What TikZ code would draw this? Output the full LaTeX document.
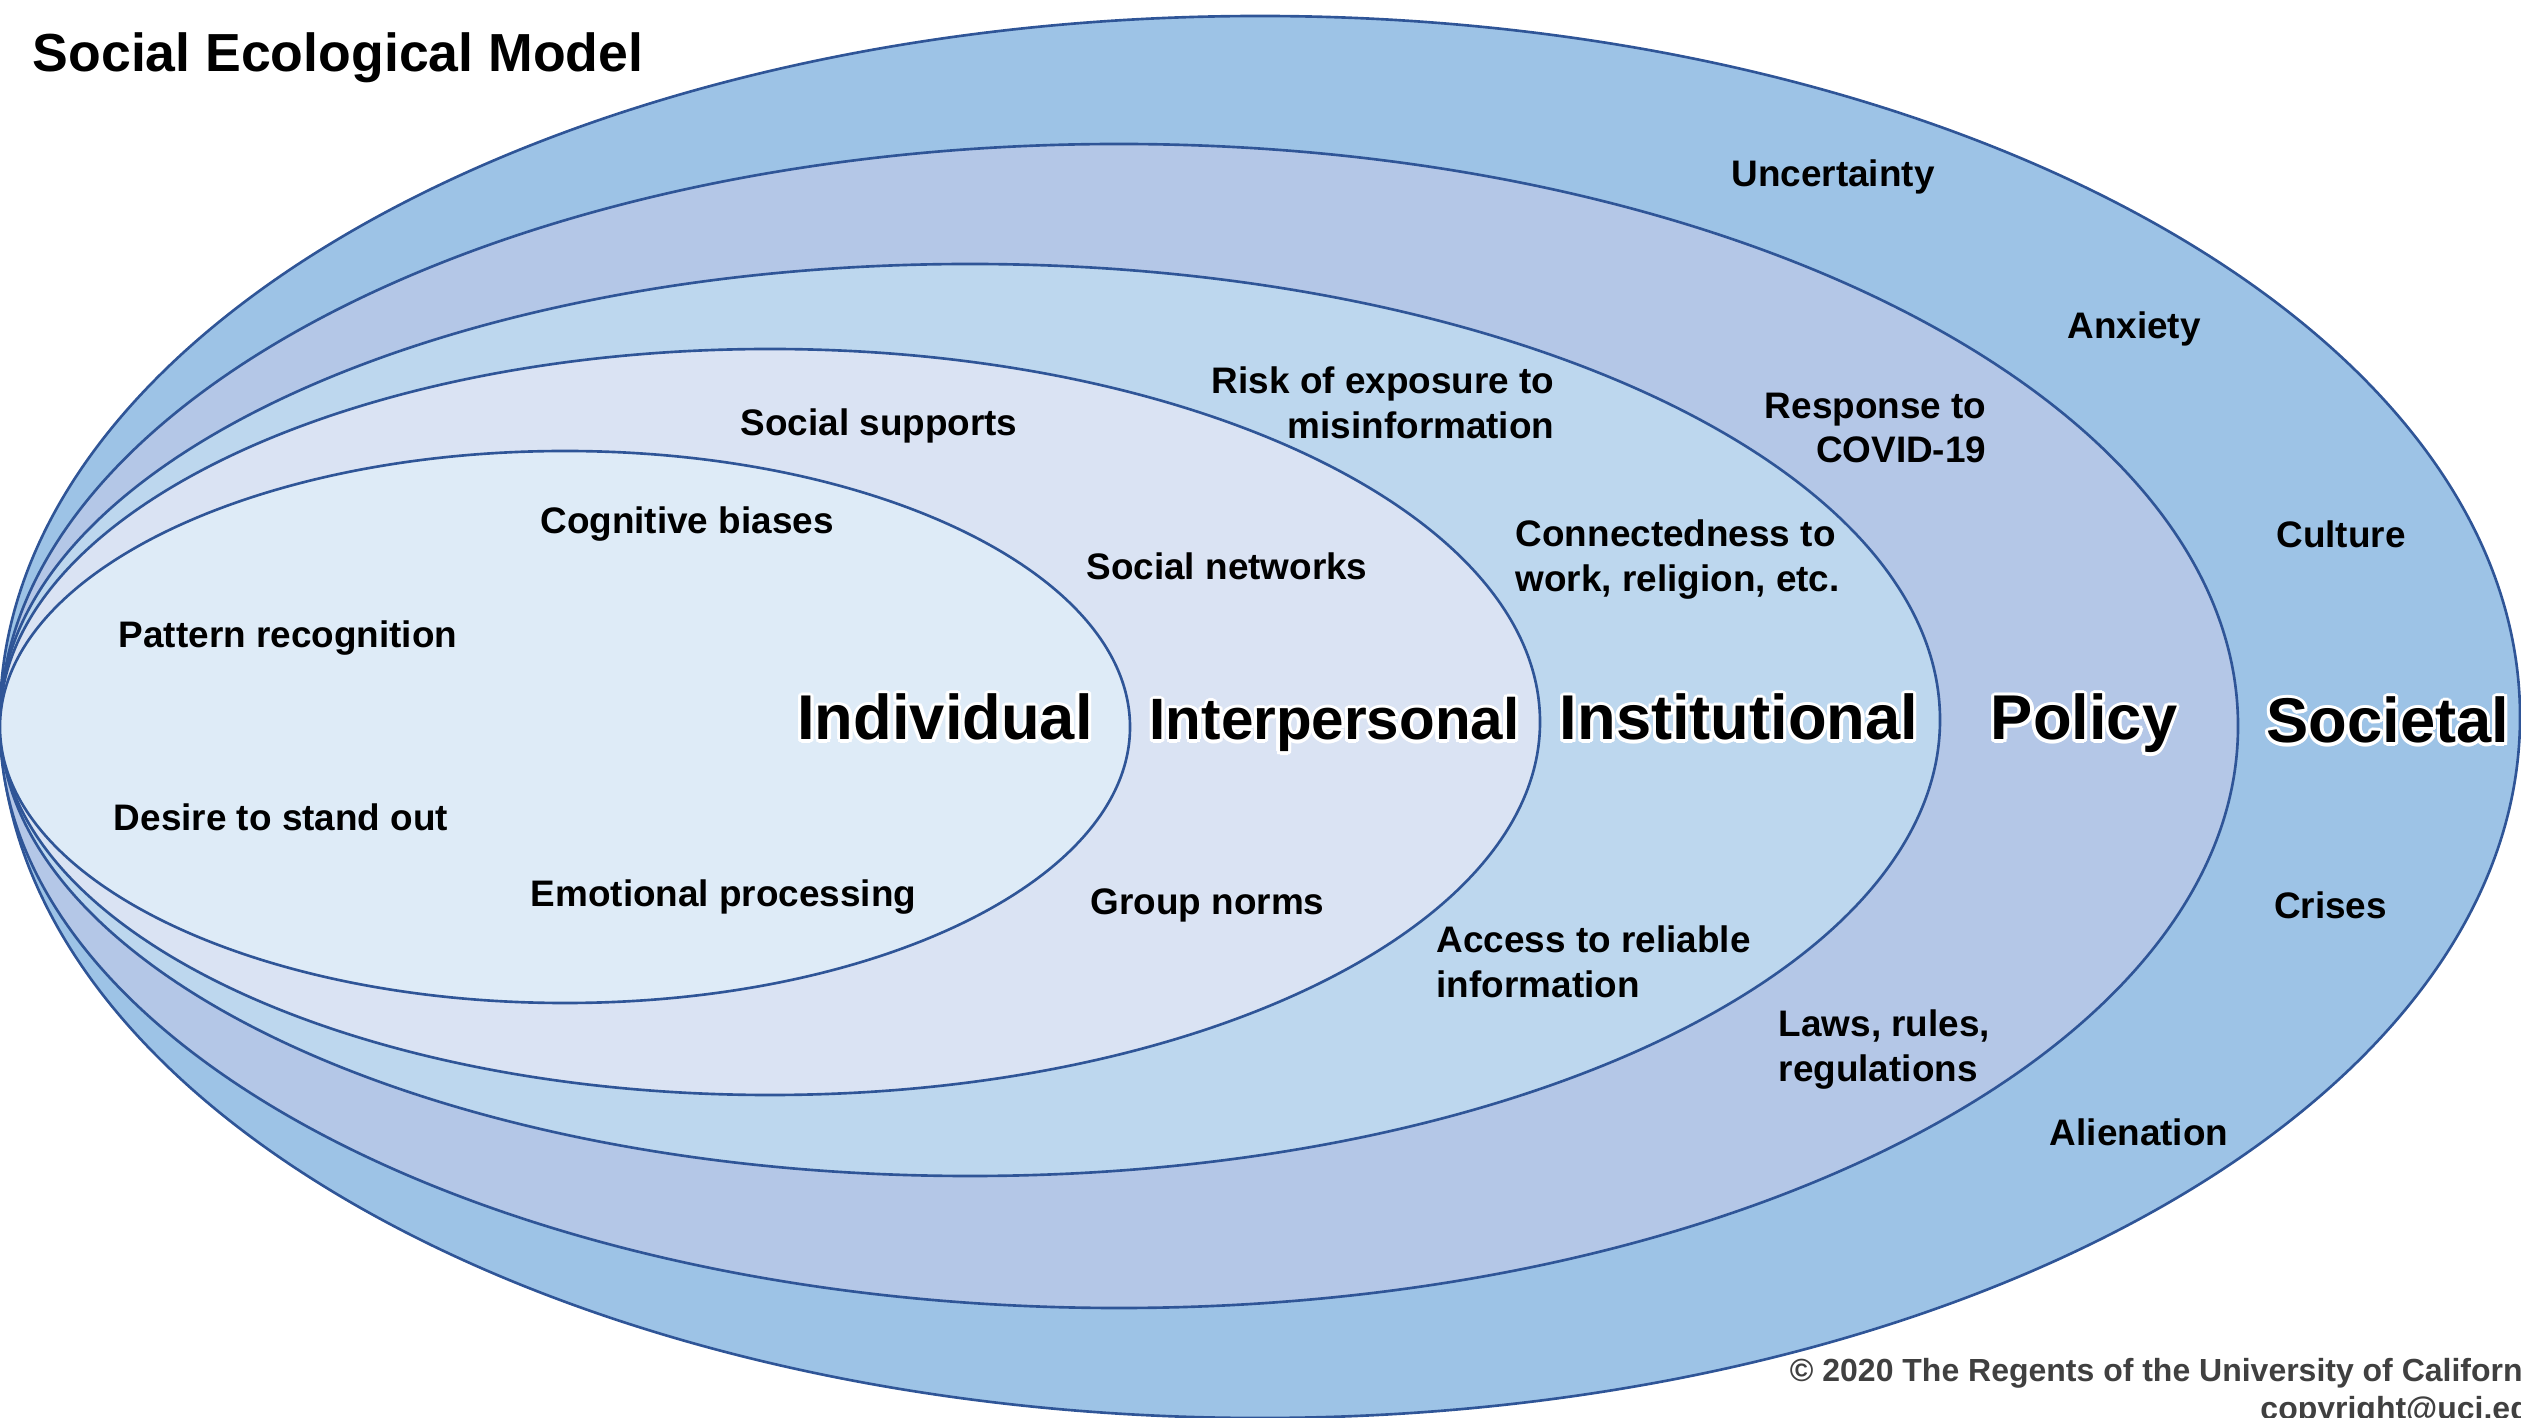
\documentclass[tikz,border=0pt]{standalone}
\usepackage{fontspec}
\setmainfont{Liberation Sans}
\usepackage{contour}
\contourlength{0.9pt}
\contournumber{16}
\definecolor{ringline}{HTML}{2F5597}
\definecolor{societalfill}{HTML}{9DC3E6}
\definecolor{policyfill}{HTML}{B4C7E7}
\definecolor{instfill}{HTML}{BDD7EE}
\definecolor{interfill}{HTML}{DAE3F3}
\definecolor{indivfill}{HTML}{DEEBF7}
\definecolor{notegray}{HTML}{404040}
\usetikzlibrary{positioning}

\tikzset{
  ring/.style={draw=ringline, line width=0.75pt},
  item/.style={font=\bfseries\fontsize{10.5}{12.8}\selectfont, inner sep=0pt},
  level/.style={font=\bfseries\fontsize{18}{21}\selectfont, inner sep=0pt, anchor=base},
}

\begin{document}
\begin{tikzpicture}
  \useasboundingbox (0,-6.98) rectangle (25.21,7.20);

  % Nested rings, outermost first
  \draw[ring, fill=societalfill] (12.60,0.03) ellipse [x radius=12.60, y radius=7.01];
  \draw[ring, fill=policyfill] (11.19,-0.06) ellipse [x radius=11.19, y radius=5.82];
  \draw[ring, fill=instfill] (9.70,0) ellipse [x radius=9.70, y radius=4.56];
  \draw[ring, fill=interfill] (7.70,-0.02) ellipse [x radius=7.70, y radius=3.73];
  \draw[ring, fill=indivfill] (5.65,-0.07) ellipse [x radius=5.65, y radius=2.76];

  % Title
  \node[anchor=west, inner sep=0pt, font=\bfseries\fontsize{15.25}{18}\selectfont] (title) at (0.32,6.62) {Social Ecological Model};

  % Level names
  \node[level] (indiv) at (9.45,-0.20) {\contour{white}{Individual}};
  \node[level, font=\bfseries\fontsize{16.6}{20}\selectfont] (inter) at (13.345,-0.20) {\contour{white}{Interpersonal}};
  \node[level] (inst) at (17.39,-0.20) {\contour{white}{Institutional}};
  \node[level] (policy) at (20.84,-0.20) {\contour{white}{Policy}};
  \node[level] (societal) at (23.88,-0.23) {\contour{white}{Societal}};

  % Individual factors
  \node[item] (pattern) at (2.88,0.82) {Pattern recognition};
  \node[item] (cognitive) at (6.87,1.96) {Cognitive biases};
  \node[item] (desire) at (2.81,-0.97) {Desire to stand out};
  \node[item] (emotional) at (7.235,-1.77) {Emotional processing};

  % Interpersonal factors
  \node[item] (supports) at (8.79,2.94) {Social supports};
  \node[item] (networks) at (12.27,1.54) {Social networks};
  \node[item] (norms) at (12.075,-1.85) {Group norms};

  % Institutional factors
  \node[item, align=right, anchor=east] (risk) at (15.55,3.17) {Risk of exposure to\\misinformation};
  \node[item, align=left, anchor=west] (connected) at (15.15,1.60) {Connectedness to\\work, religion, etc.};
  \node[item, align=left, anchor=west] (access) at (14.36,-2.415) {Access to reliable\\information};

  % Policy factors
  \node[item, align=right, anchor=east] (response) at (19.87,2.92) {Response to\\COVID-19};
  \node[item, align=left, anchor=west] (laws) at (17.78,-3.30) {Laws, rules,\\regulations};

  % Societal factors
  \node[item] (uncertainty) at (18.33,5.43) {Uncertainty};
  \node[item] (anxiety) at (21.34,3.91) {Anxiety};
  \node[item] (culture) at (23.41,1.86) {Culture};
  \node[item] (crises) at (23.305,-1.85) {Crises};
  \node[item] (alienation) at (21.39,-4.12) {Alienation};

  % Copyright
  \node[anchor=north east, align=right, inner sep=0pt, text=notegray, font=\bfseries\fontsize{9.1}{10.7}\selectfont] (note) at (25.50,-6.38) {\textcopyright{} 2020 The Regents of the University of California\\copyright@uci.edu};
\end{tikzpicture}
\end{document}
